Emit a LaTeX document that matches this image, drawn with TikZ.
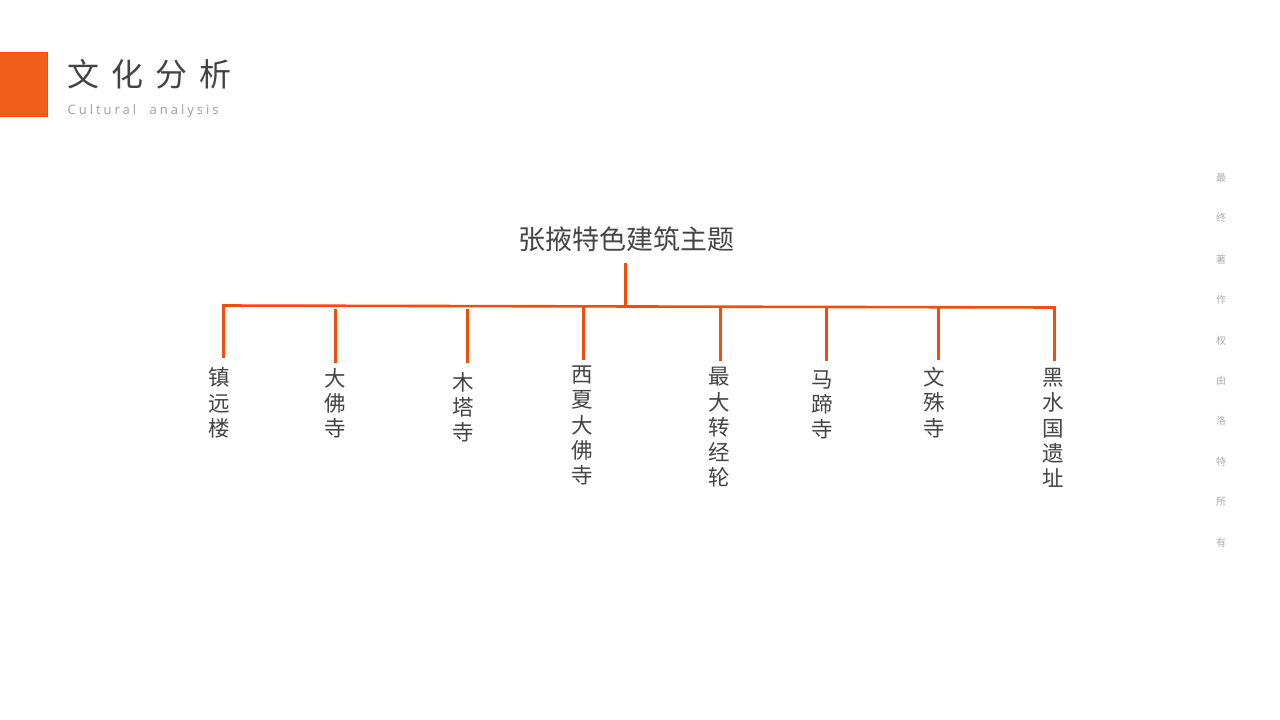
\documentclass[tikz,border=0pt]{standalone}
\usepackage{fontspec}
\usepackage{xcolor}
\setmainfont{Noto Sans CJK SC}
\newfontfamily\latinlight{Open Sans}[LetterSpace=23,WordSpace=2.1]
\newfontfamily\cjkspaced{Noto Sans CJK SC}[LetterSpace=38]
\definecolor{accent}{HTML}{F04E0A}
\definecolor{blockfill}{HTML}{F05F1A}
\definecolor{inktext}{HTML}{444444}
\tikzset{
  leaf/.style={inner sep=0pt, text=inktext, align=center, font=\fontsize{21.5}{25.2}\selectfont},
  side/.style={inner sep=0pt, text=black!32, font=\fontsize{10}{10}\selectfont},
  stem/.style={draw=accent, line width=2.6pt}
}
\begin{document}
\begin{tikzpicture}[x=1pt,y=1pt]
\useasboundingbox (0,0) rectangle (1280,-720);
\fill [fill=white] (0,0) rectangle (1280,-720);
\draw [draw=accent, fill=blockfill, line width=0.8pt] (-1,-52.4) rectangle (47.6,-116.6);
\node (heading) [inner sep=0pt, anchor=west, text=inktext, font=\fontsize{32}{32}\cjkspaced] at (67,-74) {文化分析};
\node (subheading) [inner sep=0pt, anchor=west, text=black!38, font=\fontsize{13}{13}\latinlight] at (67.5,-111.5) {Cultural analysis};
\node (theme) [inner sep=0pt, text=inktext, font=\fontsize{27}{27}\selectfont] at (626,-239.5) {张掖特色建筑主题};
\coordinate (stemtop) at (625.5,-263);
\coordinate (stembus) at (625.5,-306);
\coordinate (busleft) at (222.2,-305.5);
\coordinate (busright) at (1055.8,-307.5);
\draw [stem] (stemtop) -- (stembus);
\draw [stem] (busleft) -- (busright);
\node (zhenyuan) [leaf] at (219,-403) {镇\\远\\楼};
\node (dafo) [leaf] at (335,-403) {大\\佛\\寺};
\node (muta) [leaf] at (463,-407.5) {木\\塔\\寺};
\node (xixia) [leaf] at (582,-425.5) {西\\夏\\大\\佛\\寺};
\node (zhuanjing) [leaf] at (719,-427.5) {最\\大\\转\\经\\轮};
\node (mati) [leaf] at (822,-405) {马\\蹄\\寺};
\node (wenshu) [leaf] at (934,-402.5) {文\\殊\\寺};
\node (heishui) [leaf] at (1053,-428) {黑\\水\\国\\遗\\址};
\coordinate (t1) at (223.5,-305.5);
\coordinate (t2) at (335.5,-309);
\coordinate (t3) at (467.5,-309);
\coordinate (t4) at (583.5,-306.5);
\coordinate (t5) at (720.5,-307);
\coordinate (t6) at (826.5,-307);
\coordinate (t7) at (938.5,-307);
\coordinate (t8) at (1054.5,-307.5);
\coordinate (b1) at (223.5,-357.5);
\coordinate (b2) at (335.5,-362.5);
\coordinate (b3) at (467.5,-362.5);
\coordinate (b4) at (583.5,-359.5);
\coordinate (b5) at (720.5,-360.5);
\coordinate (b6) at (826.5,-360.5);
\coordinate (b7) at (938.5,-359.5);
\coordinate (b8) at (1054.5,-360.5);
\draw [stem] (t1) -- (b1);
\draw [stem] (t2) -- (b2);
\draw [stem] (t3) -- (b3);
\draw [stem] (t4) -- (b4);
\draw [stem] (t5) -- (b5);
\draw [stem] (t6) -- (b6);
\draw [stem] (t7) -- (b7);
\draw [stem] (t8) -- (b8);
\node (s1) [side] at (1221,-177.5) {最};
\node (s2) [side] at (1221,-218) {终};
\node (s3) [side] at (1221,-259.5) {著};
\node (s4) [side] at (1221,-300) {作};
\node (s5) [side] at (1221,-340.5) {权};
\node (s6) [side] at (1221,-381) {由};
\node (s7) [side] at (1221,-421) {洛};
\node (s8) [side] at (1221,-462) {特};
\node (s9) [side] at (1221,-502) {所};
\node (s10) [side] at (1221,-543) {有};
\end{tikzpicture}
\end{document}
